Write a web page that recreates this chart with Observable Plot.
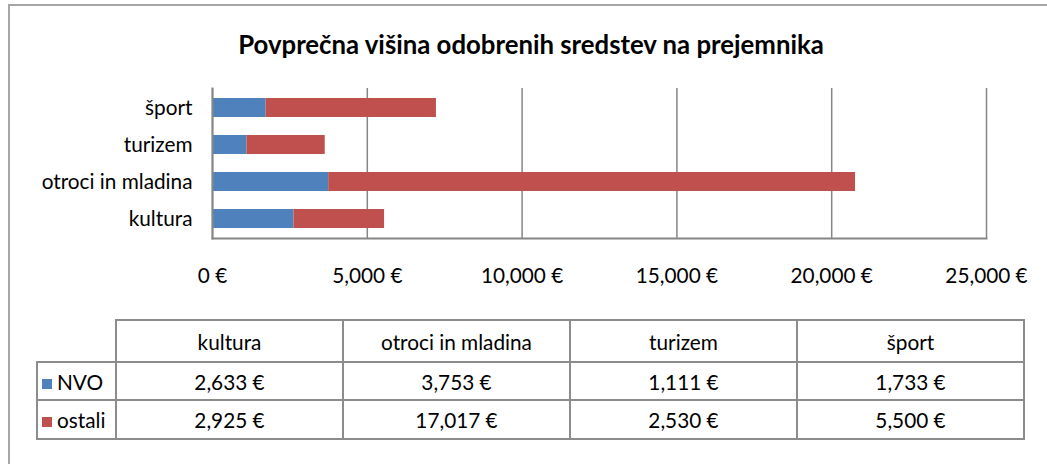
<!DOCTYPE html>
<html>
<head>
<meta charset="utf-8">
<script src="https://cdn.jsdelivr.net/npm/d3@7"></script>
<script src="https://cdn.jsdelivr.net/npm/@observablehq/plot@0.6"></script>
<style>
  html, body { margin: 0; padding: 0; background: #fff; }
  body { font-family: Lato, "Liberation Sans", Arial, sans-serif; }
  #wrap { position: relative; width: 1047px; height: 464px; overflow: hidden; }
  #frame { position: absolute; left: 8px; top: 4px; width: 1100px; height: 500px; border: 2px solid #a6a6a6; box-sizing: border-box; }
  #title { position: absolute; left: 0; top: 45px; width: 1062px; text-align: center; font-weight: bold; color: #000; line-height: 1; transform: translateY(-50%); }
  #chart { position: absolute; left: 0; top: 0; }
  table { position: absolute; left: 36px; top: 319px; border-collapse: collapse; color: #000; }
  td { border: 2px solid #8c8c8c; text-align: center; padding: 0; }
  td.blank { border-top: none; border-left: none; }
  .sw { display: inline-block; width: 10px; height: 10px; margin-right: 5px; vertical-align: 1px; }
</style>
</head>
<body>
<div id="wrap">
  <div id="frame"></div>
  <div id="chart"></div>
  <div id="title">Povprečna višina odobrenih sredstev na prejemnika</div>
</div>
<script>
const categories = ["kultura", "otroci in mladina", "turizem", "šport"];
const seriesNames = ["NVO", "ostali"];
const nvo = [2633, 3753, 1111, 1733];
const ostali = [2925, 17017, 2530, 5500];
const xTicks = [0, 5000, 10000, 15000, 20000, 25000];
const colors = ["#4F81BD", "#C0504D"];
const titleText = "Povprečna višina odobrenih sredstev na prejemnika";

const FAMILY = "Lato, 'Liberation Sans', Arial, sans-serif";
const fmt = v => d3.format(",")(v) + " €";

function fitSize(text, weight, target) {
  const ctx = document.createElement("canvas").getContext("2d");
  ctx.font = `${weight} 100px ${FAMILY}`;
  return 100 * target / ctx.measureText(text).width;
}

async function render() {
  try { await document.fonts.load("20px Lato"); await document.fonts.load("bold 20px Lato"); } catch (e) {}
  const fs = fitSize("otroci in mladina", "normal", 151);
  const ts = fitSize(titleText, "bold", 587);
  document.getElementById("title").style.fontSize = ts + "px";
  document.getElementById("title").style.fontFamily = FAMILY;

  const data = [];
  categories.forEach((c, i) => {
    data.push({cat: c, series: seriesNames[0], value: nvo[i]});
    data.push({cat: c, series: seriesNames[1], value: ostali[i]});
  });

  const plot = Plot.plot({
    width: 1047,
    height: 300,
    marginLeft: 212,
    marginRight: 61,
    marginTop: 88,
    marginBottom: 62,
    style: { fontFamily: FAMILY, fontSize: fs + "px", color: "#000", background: "transparent" },
    x: { domain: [0, 25000], ticks: xTicks, tickFormat: fmt, tickSize: 0, tickPadding: 30, label: null },
    y: { domain: categories.slice().reverse(), paddingInner: 0.5, paddingOuter: 0.25, tickSize: 0, tickPadding: 20, label: null },
    color: { domain: seriesNames, range: colors },
    marks: [
      Plot.ruleX(xTicks, { stroke: "#868686", strokeWidth: 1.5 }),
      Plot.barX(data, Plot.stackX({ x: "value", y: "cat", fill: "series", order: null })),
      Plot.frame({ anchor: "bottom", stroke: "#868686", strokeWidth: 2 }),
      Plot.frame({ anchor: "left", stroke: "#868686", strokeWidth: 2 })
    ]
  });
  plot.querySelectorAll("text").forEach(t => { t.style.fontSize = fs + "px"; t.style.fontFamily = FAMILY; t.style.fill = "#000"; });
  document.getElementById("chart").appendChild(plot);

  const tbl = document.createElement("table");
  tbl.style.fontSize = fs + "px";
  tbl.style.fontFamily = FAMILY;
  const colW = [79, 227, 227, 227, 227];
  let html = "<colgroup>" + colW.map(w => `<col style="width:${w}px">`).join("") + "</colgroup>";
  html += `<tr style="height:42px"><td class="blank"></td>` + categories.map(c => `<td>${c}</td>`).join("") + "</tr>";
  [nvo, ostali].forEach((vals, r) => {
    html += `<tr style="height:${r === 0 ? 38 : 39}px"><td style="text-align:left;padding-left:4px"><span class="sw" style="background:${colors[r]}"></span>${seriesNames[r]}</td>` +
      vals.map(v => `<td>${fmt(v)}</td>`).join("") + "</tr>";
  });
  tbl.innerHTML = html;
  document.getElementById("wrap").appendChild(tbl);
}
render();
</script>
</body>
</html>
